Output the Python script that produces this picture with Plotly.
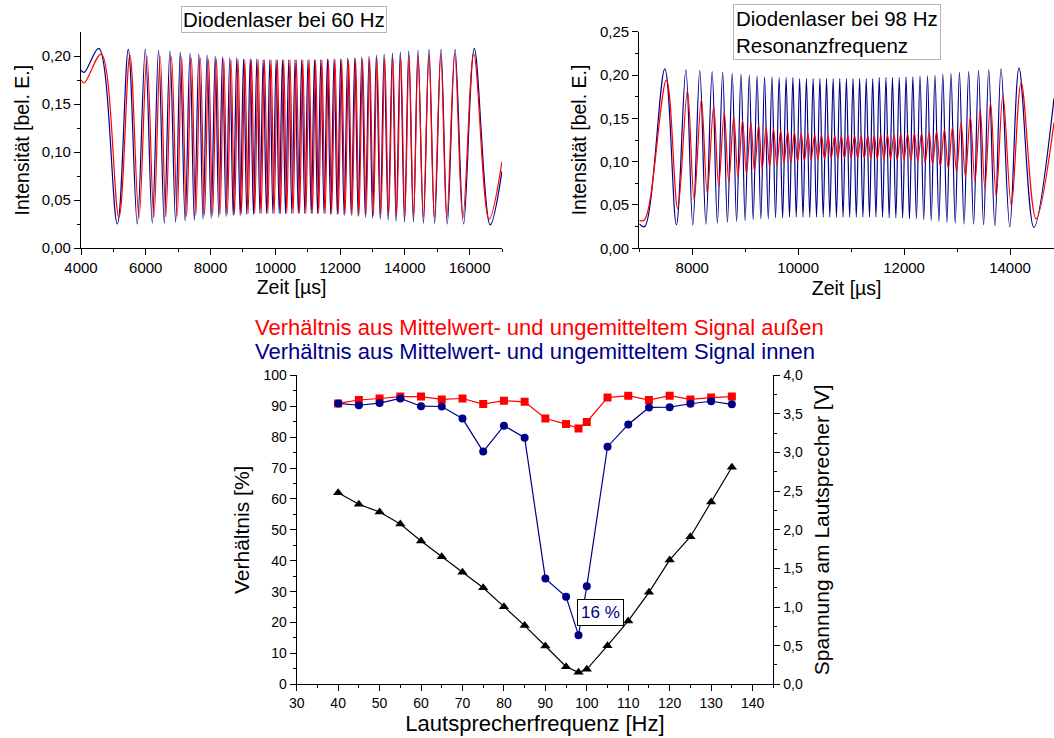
import plotly.graph_objects as go

# ---------------- Top-left: Diodenlaser bei 60 Hz ----------------
t60_start = [4000, 4100]
b60_start = [0.185, 0.183]
r60_start = [0.175, 0.172]
t60_end = [17000]
b60_end = [0.080]
r60_end = [0.090]

b60_peak_t = [4550, 5460, 5985, 6395, 6745, 7065, 7365, 7640, 7895, 8145, 8370, 8595, 8810, 9020,
              9225, 9430, 9625, 9830, 10025, 10220, 10415, 10610, 10815, 11010, 11210, 11405, 11610,
              11815, 12020, 12235, 12455, 12670, 12895, 13120, 13360, 13615, 13860, 14120, 14405,
              14745, 15115, 15550, 16145]
b60_peak_v = [0.208, 0.207, 0.207, 0.206, 0.205, 0.204, 0.203, 0.202, 0.201, 0.200,
              0.199, 0.198, 0.198, 0.197, 0.197, 0.197, 0.196, 0.196, 0.196, 0.196,
              0.196, 0.196, 0.196, 0.196, 0.196, 0.196, 0.197, 0.197, 0.197, 0.198,
              0.198, 0.199, 0.200, 0.201, 0.202, 0.203, 0.204, 0.205, 0.206, 0.207,
              0.207, 0.207, 0.208]
b60_trough_t = [5121, 5738, 6201, 6571, 6921, 7215, 7500, 7770, 8020, 8255, 8480, 8700, 8915, 9120,
                9325, 9525, 9730, 9925, 10120, 10315, 10510, 10710, 10910, 11110, 11305, 11505,
                11710, 11915, 12125, 12345, 12560, 12780, 13005, 13240, 13485, 13730, 13990, 14265,
                14575, 14920, 15310, 15815, 16635]
b60_trough_v = [0.025, 0.025, 0.026, 0.026, 0.027, 0.028, 0.029, 0.030, 0.031, 0.032,
                0.033, 0.034, 0.034, 0.035, 0.035, 0.036, 0.036, 0.036, 0.036, 0.036,
                0.036, 0.036, 0.036, 0.036, 0.036, 0.036, 0.035, 0.035, 0.034, 0.034,
                0.033, 0.032, 0.031, 0.030, 0.029, 0.028, 0.027, 0.027, 0.026, 0.026,
                0.025, 0.025, 0.024]

r60_peak_t = [4625, 5510, 6035, 6445, 6795, 7110, 7410, 7685, 7940, 8185, 8410, 8635, 8850, 9060,
              9265, 9470, 9665, 9870, 10065, 10260, 10455, 10650, 10850, 11045, 11245, 11440, 11640,
              11845, 12050, 12265, 12480, 12695, 12915, 13140, 13380, 13630, 13875, 14130, 14410,
              14745, 15110, 15540, 16130]
r60_peak_v = [0.202, 0.201, 0.200, 0.200, 0.199, 0.199, 0.198, 0.198, 0.197, 0.197,
              0.197, 0.196, 0.196, 0.196, 0.196, 0.196, 0.196, 0.196, 0.196, 0.196,
              0.196, 0.196, 0.196, 0.196, 0.196, 0.196, 0.196, 0.196, 0.196, 0.196,
              0.197, 0.197, 0.197, 0.198, 0.198, 0.199, 0.199, 0.200, 0.200, 0.201,
              0.201, 0.202, 0.202]
r60_trough_t = [5170, 5790, 6250, 6620, 6970, 7260, 7545, 7815, 8065, 8295, 8520, 8740, 8955, 9160,
                9365, 9565, 9770, 9965, 10160, 10355, 10550, 10750, 10945, 11145, 11340, 11540,
                11740, 11945, 12155, 12370, 12585, 12805, 13030, 13260, 13500, 13745, 14000, 14270,
                14570, 14910, 15295, 15790, 16600]
r60_trough_v = [0.032, 0.032, 0.032, 0.033, 0.033, 0.033, 0.034, 0.034, 0.034, 0.035,
                0.035, 0.035, 0.036, 0.036, 0.036, 0.036, 0.036, 0.036, 0.036, 0.036,
                0.036, 0.036, 0.036, 0.036, 0.036, 0.036, 0.036, 0.036, 0.036, 0.035,
                0.035, 0.035, 0.034, 0.034, 0.034, 0.033, 0.033, 0.033, 0.032, 0.032,
                0.031, 0.031, 0.030]

# ---------------- Top-right: Diodenlaser bei 98 Hz ----------------
t98_start = [7000, 7100]
b98_start = [0.028, 0.025]
r98_start = [0.032, 0.033]
t98_end = [14830]
b98_end = [0.173]
r98_end = [0.145]

b98_peak_t = [7482, 7879, 8142, 8375, 8574, 8754, 8920, 9077, 9224, 9365, 9505, 9640, 9772, 9900,
              10027, 10155, 10282, 10410, 10535, 10660, 10785, 10910, 11035, 11160, 11285, 11407,
              11530, 11657, 11780, 11908, 12037, 12165, 12300, 12442, 12583, 12731, 12885, 13045,
              13219, 13405, 13598, 13830, 14170]
b98_peak_v = [0.207, 0.206, 0.205, 0.204, 0.203, 0.202, 0.201, 0.200, 0.199, 0.198,
              0.198, 0.197, 0.197, 0.197, 0.196, 0.196, 0.196, 0.196, 0.196, 0.196,
              0.196, 0.196, 0.196, 0.196, 0.196, 0.196, 0.197, 0.197, 0.197, 0.197,
              0.198, 0.198, 0.199, 0.199, 0.200, 0.201, 0.202, 0.203, 0.204, 0.205,
              0.206, 0.207, 0.208]
b98_trough_t = [7700, 8010, 8258, 8474, 8664, 8837, 8998, 9150, 9295, 9435, 9572, 9706, 9836, 9963,
                10091, 10218, 10346, 10472, 10597, 10722, 10847, 10972, 11097, 11222, 11346, 11468,
                11593, 11718, 11844, 11972, 12101, 12232, 12371, 12512, 12657, 12808, 12965, 13132,
                13312, 13500, 13714, 13995, 14450]
b98_trough_v = [0.027, 0.027, 0.028, 0.029, 0.030, 0.031, 0.032, 0.033, 0.034, 0.034,
                0.035, 0.035, 0.036, 0.036, 0.036, 0.036, 0.036, 0.036, 0.036, 0.036,
                0.036, 0.036, 0.036, 0.036, 0.036, 0.036, 0.036, 0.035, 0.035, 0.035,
                0.034, 0.034, 0.033, 0.032, 0.031, 0.030, 0.029, 0.028, 0.028, 0.027,
                0.026, 0.025, 0.024]

r98_peak_t = [7512, 7909, 8172, 8405, 8604, 8784, 8950, 9107, 9254, 9395, 9535, 9670, 9802, 9930,
              10057, 10185, 10312, 10440, 10565, 10690, 10815, 10940, 11065, 11190, 11315, 11437,
              11560, 11687, 11810, 11938, 12067, 12195, 12330, 12472, 12613, 12761, 12915, 13075,
              13250, 13437, 13632, 13866, 14210]
r98_peak_v = [0.194, 0.182, 0.172, 0.164, 0.157, 0.152, 0.148, 0.145, 0.142, 0.140,
              0.138, 0.136, 0.135, 0.134, 0.133, 0.132, 0.131, 0.131, 0.130, 0.130,
              0.130, 0.130, 0.130, 0.130, 0.130, 0.130, 0.131, 0.131, 0.131, 0.132,
              0.132, 0.133, 0.133, 0.134, 0.135, 0.137, 0.140, 0.145, 0.152, 0.160,
              0.168, 0.177, 0.191]
r98_trough_t = [7725, 8035, 8283, 8499, 8689, 8862, 9023, 9175, 9320, 9460, 9597, 9731, 9861, 9988,
                10116, 10243, 10371, 10497, 10622, 10747, 10872, 10997, 11122, 11247, 11371, 11493,
                11618, 11743, 11869, 11997, 12126, 12257, 12396, 12537, 12682, 12833, 12990, 13157,
                13337, 13525, 13739, 14025, 14490]
r98_trough_v = [0.046, 0.056, 0.064, 0.072, 0.077, 0.082, 0.086, 0.089, 0.092, 0.094,
                0.096, 0.098, 0.099, 0.100, 0.101, 0.102, 0.103, 0.103, 0.104, 0.104,
                0.104, 0.104, 0.104, 0.104, 0.104, 0.103, 0.103, 0.103, 0.102, 0.102,
                0.101, 0.100, 0.099, 0.097, 0.095, 0.092, 0.088, 0.083, 0.077, 0.069,
                0.060, 0.049, 0.034]

# ---------------- Bottom: Verhältnis vs. Lautsprecherfrequenz ----------------
freq = [40, 45, 50, 55, 60, 65, 70, 75, 80, 85, 90, 95, 98, 100, 105, 110, 115, 120, 125, 130, 135]
ratio_aussen = [90.9, 92.0, 92.5, 93.1, 93.1, 92.2, 92.5, 90.7, 91.8, 91.4, 86.0, 84.2, 82.8, 84.9,
                92.8, 93.4, 92.0, 93.4, 92.2, 92.8, 93.1]
ratio_innen = [90.9, 90.3, 91.0, 92.5, 90.0, 89.9, 86.0, 75.3, 83.7, 79.8, 34.2, 28.3, 15.9, 31.7,
               76.9, 84.1, 89.6, 89.7, 90.8, 91.6, 90.6]
spannung = [2.48, 2.33, 2.23, 2.075, 1.855, 1.65, 1.45, 1.25, 1.005, 0.76, 0.496, 0.228, 0.155, 0.194,
            0.50, 0.82, 1.19, 1.61, 1.91, 2.36, 2.81]

BLUE = "#000088"
RED = "#ff0000"
FONT = "Liberation Sans"


def build(start_t, start_v, pk_t, pk_v, tr_t, tr_v, end_t, end_v):
    xs, ys = list(start_t), list(start_v)
    for a, b, c, d in zip(pk_t, pk_v, tr_t, tr_v):
        xs += [a, c]
        ys += [b, d]
    xs += list(end_t)
    ys += list(end_v)
    return xs, ys


fig = go.Figure()

x, y = build(t60_start, b60_start, b60_peak_t, b60_peak_v, b60_trough_t, b60_trough_v, t60_end, b60_end)
fig.add_trace(go.Scatter(x=x, y=y, mode="lines", line=dict(color=BLUE, width=1.2, shape="spline"),
                         xaxis="x", yaxis="y", showlegend=False))
x, y = build(t60_start, r60_start, r60_peak_t, r60_peak_v, r60_trough_t, r60_trough_v, t60_end, r60_end)
fig.add_trace(go.Scatter(x=x, y=y, mode="lines", line=dict(color=RED, width=1.2, shape="spline"),
                         xaxis="x", yaxis="y", showlegend=False))

x, y = build(t98_start, b98_start, b98_peak_t, b98_peak_v, b98_trough_t, b98_trough_v, t98_end, b98_end)
fig.add_trace(go.Scatter(x=x, y=y, mode="lines", line=dict(color=BLUE, width=1.2, shape="spline"),
                         xaxis="x2", yaxis="y2", showlegend=False))
x, y = build(t98_start, r98_start, r98_peak_t, r98_peak_v, r98_trough_t, r98_trough_v, t98_end, r98_end)
fig.add_trace(go.Scatter(x=x, y=y, mode="lines", line=dict(color=RED, width=1.2, shape="spline"),
                         xaxis="x2", yaxis="y2", showlegend=False))

fig.add_trace(go.Scatter(x=freq, y=spannung, mode="lines+markers",
                         line=dict(color="black", width=1.2),
                         marker=dict(symbol="triangle-up", size=9, color="black"),
                         xaxis="x3", yaxis="y4", showlegend=False))
fig.add_trace(go.Scatter(x=freq, y=ratio_aussen, mode="lines+markers",
                         line=dict(color=RED, width=1.2),
                         marker=dict(symbol="square", size=8, color=RED),
                         xaxis="x3", yaxis="y3", showlegend=False))
fig.add_trace(go.Scatter(x=freq, y=ratio_innen, mode="lines+markers",
                         line=dict(color=BLUE, width=1.2),
                         marker=dict(symbol="circle", size=8, color=BLUE),
                         xaxis="x3", yaxis="y3", showlegend=False))

W, H = 1054, 738


def px_x(p):
    return p / W


def px_y(p):
    return 1 - p / H


ax_common = dict(showline=True, linecolor="black", linewidth=1.3, ticks="outside", ticklen=6,
                 tickwidth=1.3, tickcolor="black", showgrid=False, zeroline=False, automargin=False,
                 mirror=False)

fig.update_layout(
    width=W, height=H, margin=dict(l=0, r=0, t=0, b=0),
    paper_bgcolor="white", plot_bgcolor="white",
    separators=",.",
    font=dict(family=FONT, color="black", size=15),
    xaxis=dict(domain=[px_x(81), px_x(502)], anchor="y", range=[4000, 17000], tick0=4000, dtick=2000,
               tickformat="d", minor=dict(dtick=1000, ticks="outside", ticklen=3, tickcolor="black"),
               tickfont=dict(size=15), title=dict(text="Zeit [µs]", font=dict(size=19.5), standoff=5),
               **ax_common),
    yaxis=dict(domain=[px_y(248), px_y(32.3)], anchor="x", range=[0, 0.2247], dtick=0.05,
               tickformat=".2f", minor=dict(dtick=0.025, ticks="outside", ticklen=3, tickcolor="black"),
               tickfont=dict(size=15),
               title=dict(text="Intensität [bel. E.]", font=dict(size=19.5), standoff=6), **ax_common),
    xaxis2=dict(domain=[px_x(639.3), 1.0], anchor="y2", range=[7000, 14830], tick0=0, dtick=2000,
                tickformat="d", minor=dict(dtick=1000, ticks="outside", ticklen=3, tickcolor="black"),
                tickfont=dict(size=15), title=dict(text="Zeit [µs]", font=dict(size=19.5), standoff=5),
                **ax_common),
    yaxis2=dict(domain=[px_y(248.3), px_y(31.7)], anchor="x2", range=[0, 0.25], dtick=0.05,
                tickformat=".2f", minor=dict(dtick=0.025, ticks="outside", ticklen=3, tickcolor="black"),
                tickfont=dict(size=15),
                title=dict(text="Intensität [bel. E.]", font=dict(size=19.5), standoff=8), **ax_common),
    xaxis3=dict(domain=[px_x(296.7), px_x(773.3)], anchor="y3", range=[30, 145], tick0=30, dtick=10,
                minor=dict(dtick=5, ticks="outside", ticklen=3, tickcolor="black"),
                tickfont=dict(size=14),
                title=dict(text="Lautsprecherfrequenz [Hz]", font=dict(size=22), standoff=5), **ax_common),
    yaxis3=dict(domain=[px_y(684.3), px_y(375.3)], anchor="x3", range=[0, 100], dtick=10,
                minor=dict(dtick=5, ticks="outside", ticklen=3, tickcolor="black"),
                tickfont=dict(size=14),
                title=dict(text="Verhältnis [%]", font=dict(size=21), standoff=8), **ax_common),
    yaxis4=dict(overlaying="y3", anchor="x3", side="right", range=[0, 4], dtick=0.5, tickformat=".1f",
                minor=dict(dtick=0.25, ticks="outside", ticklen=3, tickcolor="black"),
                tickfont=dict(size=14),
                title=dict(text="Spannung am Lautsprecher [V]", font=dict(size=21), standoff=12),
                **ax_common),
)

fig.add_annotation(x=px_x(284), y=px_y(19.5), xref="paper", yref="paper", xanchor="center",
                   yanchor="middle",
                   text="Diodenlaser bei 60 Hz", showarrow=False, font=dict(size=20.5, color="black"),
                   bordercolor="#b4b4b4", borderwidth=1, borderpad=1, bgcolor="white")
fig.add_annotation(x=px_x(733), y=px_y(31.5), xref="paper", yref="paper", xanchor="left",
                   yanchor="middle",
                   text="Diodenlaser bei 98 Hz<br>Resonanzfrequenz", showarrow=False, align="left",
                   font=dict(size=20.5, color="black"),
                   bordercolor="#b4b4b4", borderwidth=1, borderpad=2, bgcolor="white")
fig.add_annotation(x=px_x(539.5), y=px_y(327), xref="paper", yref="paper", xanchor="center",
                   text="Verhältnis aus Mittelwert- und ungemitteltem Signal außen", showarrow=False,
                   font=dict(size=22, color=RED))
fig.add_annotation(x=px_x(535), y=px_y(352), xref="paper", yref="paper", xanchor="center",
                   text="Verhältnis aus Mittelwert- und ungemitteltem Signal innen", showarrow=False,
                   font=dict(size=22, color=BLUE))
fig.add_annotation(x=103.3, y=23.1, xref="x3", yref="y3", text="16 %", showarrow=False,
                   font=dict(size=17, color=BLUE), bordercolor="black", borderwidth=1, borderpad=3,
                   bgcolor="white")

fig.write_html("out.html", config={"displayModeBar": False},
               post_script="document.body.style.margin='0';document.body.style.overflow='hidden';")
